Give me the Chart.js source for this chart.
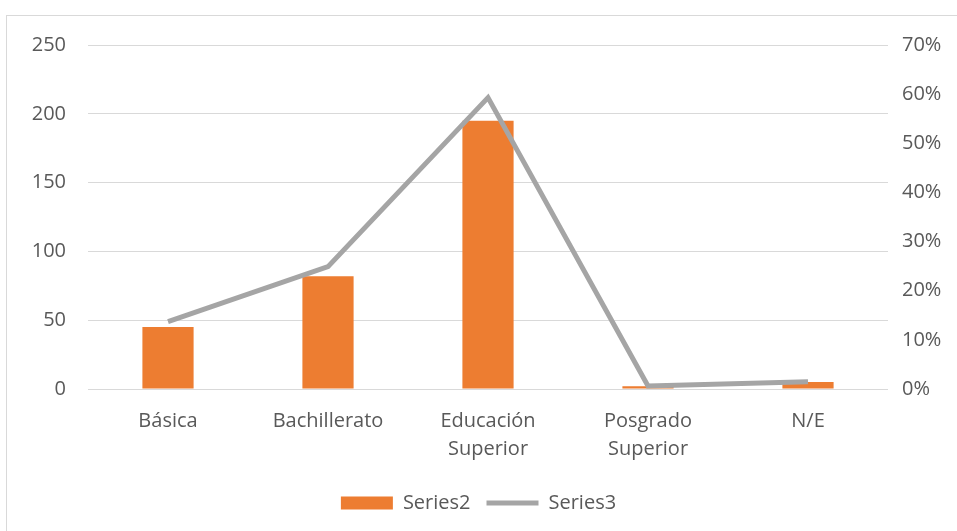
<!DOCTYPE html>
<html>
<head>
<meta charset="utf-8">
<script src="https://cdn.jsdelivr.net/npm/chart.js@4"></script>
<style>
  html, body { margin: 0; padding: 0; background: #fff; }
  #frame { position: absolute; left: 6px; top: 15px; width: 980px; height: 540px; border: 1px solid #D9D9D9; }
  #chart { position: absolute; left: 0; top: 0; }
</style>
</head>
<body>
<div id="frame"></div>
<canvas id="chart" width="957" height="531"></canvas>
<script>
const categorias = [["Básica"], ["Bachillerato"], ["Educación", "Superior"], ["Posgrado", "Superior"], ["N/E"]];
const series2 = [45, 82, 195, 2, 5];
const series3 = [0.137, 0.249, 0.593, 0.006, 0.015];

const fuente = { family: "'Open Sans', 'Noto Sans', sans-serif", size: 20, lineHeight: 1.4 };
const gris = "#595959";

new Chart(document.getElementById("chart"), {
  type: "bar",
  data: {
    labels: categorias,
    datasets: [
      {
        type: "line",
        label: "Series3",
        data: series3,
        yAxisID: "y1",
        borderColor: "#A5A5A5",
        backgroundColor: "#A5A5A5",
        borderWidth: 5,
        pointRadius: 0,
        pointStyle: "line",
        tension: 0,
        order: 0
      },
      {
        label: "Series2",
        data: series2,
        yAxisID: "y",
        backgroundColor: "#ED7D31",
        borderWidth: 0,
        pointStyle: "rect",
        barPercentage: 0.32,
        categoryPercentage: 1,
        order: 1
      }
    ]
  },
  options: {
    responsive: false,
    animation: false,
    layout: { padding: { top: 45, bottom: 8 } },
    plugins: {
      tooltip: { enabled: false },
      legend: {
        position: "bottom",
        reverse: true,
        labels: {
          usePointStyle: true,
          pointStyleWidth: 52,
          boxHeight: 13,
          color: gris,
          font: { family: fuente.family, size: 20 },
          padding: 16
        }
      }
    },
    scales: {
      x: {
        grid: { display: false },
        border: { display: false },
        ticks: { color: gris, font: fuente, padding: 10, maxRotation: 0 },
        afterFit: s => { s.height = 88; }
      },
      y: {
        position: "left",
        min: 0,
        max: 250,
        ticks: { stepSize: 50, color: gris, font: fuente, padding: 22 },
        grid: { color: "#D9D9D9", lineWidth: 1, drawTicks: false },
        border: { display: false },
        afterFit: s => { s.width = 88; }
      },
      y1: {
        position: "right",
        min: 0,
        max: 0.7,
        ticks: {
          stepSize: 0.1,
          color: gris,
          font: fuente,
          padding: 14,
          callback: v => Math.round(v * 100) + "%"
        },
        grid: { display: false, drawTicks: false },
        border: { display: false },
        afterFit: s => { s.width = 69; }
      }
    }
  }
});
</script>
</body>
</html>
